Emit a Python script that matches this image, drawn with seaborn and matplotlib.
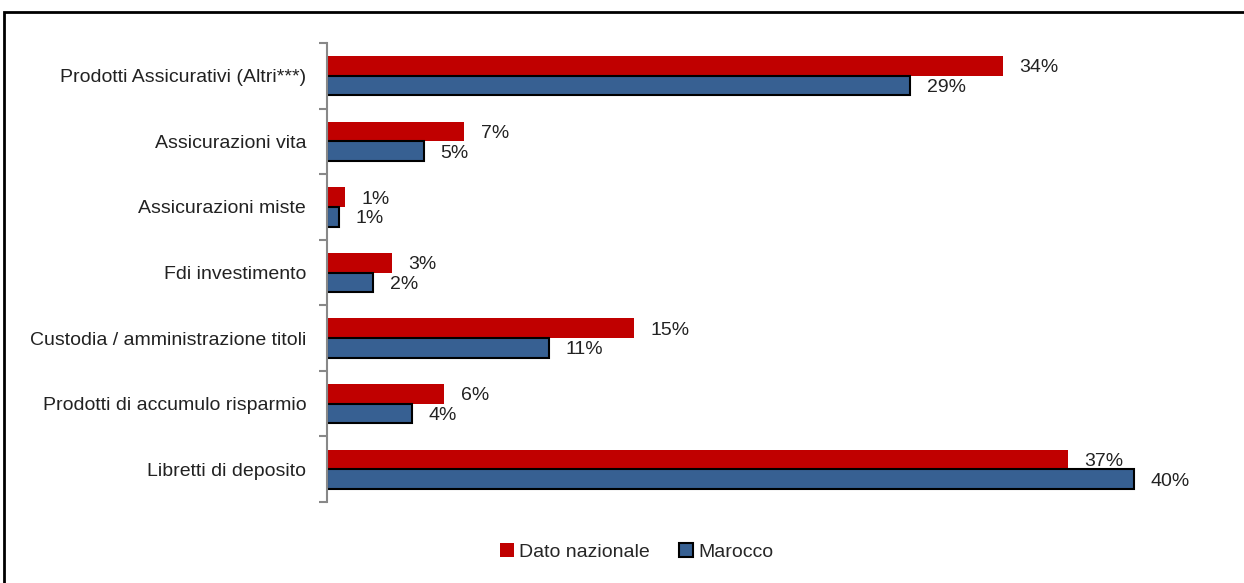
import pandas as pd
import seaborn as sns
import matplotlib.pyplot as plt
from matplotlib.patches import Rectangle

categories = [
    "Prodotti Assicurativi (Altri***)",
    "Assicurazioni vita",
    "Assicurazioni miste",
    "Fdi investimento",
    "Custodia / amministrazione titoli",
    "Prodotti di accumulo risparmio",
    "Libretti di deposito",
]
series = ["Dato nazionale", "Marocco"]
dato_nazionale = [33.5, 6.8, 0.9, 3.2, 15.2, 5.8, 36.7]
marocco = [28.9, 4.8, 0.6, 2.3, 11.0, 4.2, 40.0]
labels_naz = ["34%", "7%", "1%", "3%", "15%", "6%", "37%"]
labels_mar = ["29%", "5%", "1%", "2%", "11%", "4%", "40%"]

colors = {"Dato nazionale": "#C00000", "Marocco": "#376092"}

df = pd.DataFrame({
    "Categoria": categories * 2,
    "Serie": [series[0]] * len(categories) + [series[1]] * len(categories),
    "Valore": dato_nazionale + marocco,
})

sns.set_theme(style="white")
plt.rcParams["font.family"] = ["Liberation Sans Narrow", "Liberation Sans", "DejaVu Sans"]

fig = plt.figure(figsize=(12.44, 5.83), dpi=100)
ax = fig.add_axes([0.2629, 0.1389, 0.7299, 0.7873])

sns.barplot(data=df, x="Valore", y="Categoria", hue="Serie", hue_order=series,
            order=categories, palette=colors, orient="h", width=0.6,
            saturation=1, ax=ax, legend=True)

# blue bars get a black outline, red ones don't
for i, (bar_c, vals, labs) in enumerate(zip(ax.containers, [dato_nazionale, marocco],
                                            [labels_naz, labels_mar])):
    for patch, v, lab in zip(bar_c, vals, labs):
        if i == 1:
            patch.set_edgecolor("black")
            patch.set_linewidth(1.5)
        else:
            patch.set_edgecolor("none")
        yc = patch.get_y() + patch.get_height() / 2
        ax.annotate(lab, (v, yc + 0.03), xytext=(12, 0), textcoords="offset points",
                    va="center", ha="left", fontsize=14, color="#222222")

ax.set_xlim(0, 45)
ax.set_ylim(6.5, -0.5)
ax.set_xlabel("")
ax.set_ylabel("")
ax.set_xticks([])
for s in ["top", "right", "bottom"]:
    ax.spines[s].set_visible(False)
ax.spines["left"].set_color("#888888")
ax.spines["left"].set_linewidth(1.5)

ax.set_yticks(range(len(categories)))
ax.set_yticklabels(categories, fontsize=14, color="#222222")
ax.tick_params(axis="y", which="major", left=False, length=0, pad=15)
ax.set_yticks([i - 0.5 for i in range(len(categories) + 1)], minor=True)
ax.tick_params(axis="y", which="minor", left=True, length=6, width=1.5,
               color="#888888", direction="out")

leg = ax.legend(loc="center", bbox_to_anchor=(0.512, 0.053),
                bbox_transform=fig.transFigure, ncol=2, frameon=False,
                fontsize=14, handlelength=0.7, handleheight=0.7,
                handletextpad=0.3, columnspacing=1.5)
for h in leg.legend_handles:
    h.set_edgecolor("black")
    h.set_linewidth(1.5)
leg.legend_handles[0].set_edgecolor("none")

# outer frame of the original chart
fig.patches.append(Rectangle((4 / 1244, -0.1), 1.2, 1 - 12 / 583 + 0.1,
                             transform=fig.transFigure, fill=False,
                             edgecolor="black", linewidth=2))

fig.savefig("out.png", dpi=100)
